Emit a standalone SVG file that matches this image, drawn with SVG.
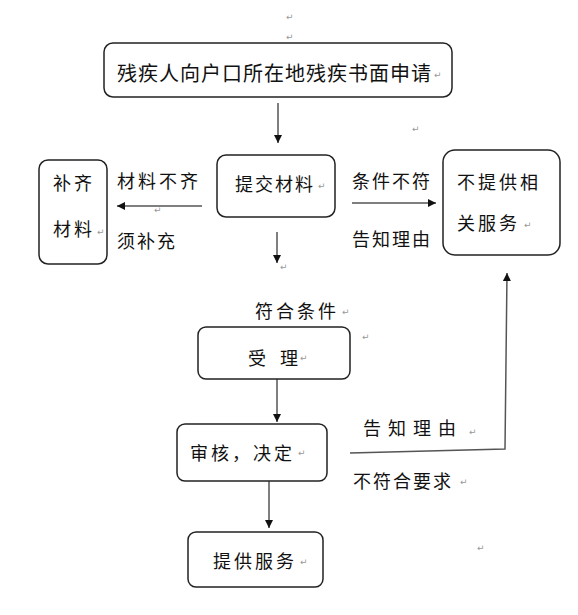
<svg xmlns="http://www.w3.org/2000/svg" width="578" height="615" viewBox="0 0 578 615">
<defs>
<style>
.box{fill:#fff;stroke:#222;stroke-width:1.5}
.ln{fill:none;stroke:#555;stroke-width:1.5}
.t{font-family:"Noto Sans CJK SC","Noto Sans",sans-serif;font-size:18px;fill:#111;dominant-baseline:central;letter-spacing:3px}
.pm{font-family:"DejaVu Sans",sans-serif;font-size:9px;fill:#999;dominant-baseline:central}
</style>
<marker id="ah" viewBox="0 0 10 10" refX="10" refY="5" markerWidth="8" markerHeight="8" markerUnits="userSpaceOnUse" orient="auto">
<path d="M0,0 L10,5 L0,10 z" fill="#111"/>
</marker>
</defs>
<rect width="578" height="615" fill="#fff"/>
<g id="connectors">
<line class="ln" x1="278" y1="103" x2="278" y2="143" marker-end="url(#ah)"/>
<line class="ln" x1="202" y1="206" x2="117" y2="206" marker-end="url(#ah)"/>
<line class="ln" x1="352" y1="203" x2="436" y2="203" marker-end="url(#ah)"/>
<line class="ln" x1="277" y1="232" x2="277" y2="263" marker-end="url(#ah)"/>
<line class="ln" x1="277" y1="379" x2="277" y2="422" marker-end="url(#ah)"/>
<polyline class="ln" points="350,453 505,449 507,273" marker-end="url(#ah)"/>
<line class="ln" x1="269" y1="481" x2="269" y2="528" marker-end="url(#ah)"/>
</g>
<g id="labels">
<text class="t" x="117" y="180">材料不齐</text>
<text class="t" x="117" y="240" style="letter-spacing:2px">须补充</text>
<text class="t" x="352" y="180" style="letter-spacing:2px">条件不符</text>
<text class="t" x="352" y="238" style="letter-spacing:2px">告知理由</text>
<text class="t" x="255" y="310" style="letter-spacing:3px">符合条件</text>
<text class="t" x="363 388 413 438" y="427">告知理由</text>
<text class="t" x="353" y="480" style="letter-spacing:2px">不符合要求</text>
</g>
<g id="node-apply">
<rect class="box" x="104" y="43" width="348" height="54" rx="9"/>
<text class="t" x="117" y="72" style="font-size:20px;letter-spacing:1px">残疾人向户口所在地残疾书面申请</text>
</g>
<g id="node-submit">
<rect class="box" x="217" y="155" width="118" height="62" rx="9"/>
<text class="t" x="235" y="183" style="letter-spacing:2px">提交材料</text>
</g>
<g id="node-supplement">
<rect class="box" x="39" y="160" width="68" height="104" rx="9"/>
<text class="t" x="53" y="182">补齐</text>
<text class="t" x="53" y="228">材料</text>
</g>
<g id="node-noservice">
<rect class="box" x="443" y="150" width="117" height="105" rx="12"/>
<text class="t" x="457" y="181" style="letter-spacing:3px">不提供相</text>
<text class="t" x="457" y="222" style="letter-spacing:3px">关服务</text>
</g>
<g id="node-accept">
<rect class="box" x="198" y="327" width="152" height="52" rx="8"/>
<text class="t" x="248 266 280" y="357">受 理</text>
</g>
<g id="node-review">
<rect class="box" x="177" y="424" width="150" height="57" rx="8"/>
<text class="t" x="190" y="452">审核，决定</text>
</g>
<g id="node-provide">
<rect class="box" x="188" y="532" width="135" height="55" rx="8"/>
<text class="t" x="213" y="560" style="letter-spacing:3px">提供服务</text>
</g>
<g id="paragraph-marks">
<text class="pm" x="286" y="17">↵</text>
<text class="pm" x="286" y="37">↵</text>
<text class="pm" x="434" y="75">↵</text>
<text class="pm" x="318" y="186">↵</text>
<text class="pm" x="154" y="210">↵</text>
<text class="pm" x="97" y="232">↵</text>
<text class="pm" x="412" y="129">↵</text>
<text class="pm" x="524" y="225">↵</text>
<text class="pm" x="280" y="267">↵</text>
<text class="pm" x="342" y="312">↵</text>
<text class="pm" x="362" y="337">↵</text>
<text class="pm" x="300" y="358">↵</text>
<text class="pm" x="298" y="453">↵</text>
<text class="pm" x="469" y="432">↵</text>
<text class="pm" x="460" y="482">↵</text>
<text class="pm" x="300" y="562">↵</text>
<text class="pm" x="477" y="548">↵</text>
</g>
</svg>
